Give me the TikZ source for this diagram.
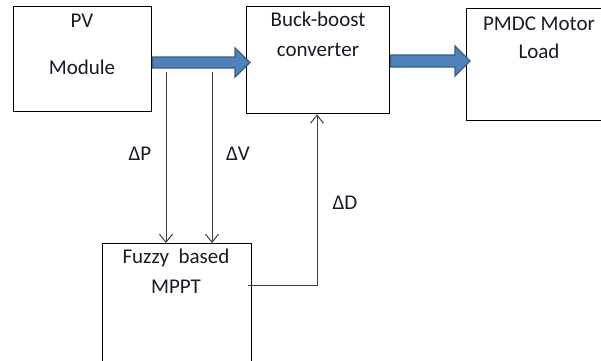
\documentclass[tikz,border=0pt]{standalone}
\usepackage{fontspec}
\setmainfont{Carlito}
\usetikzlibrary{arrows.meta,calc}
\definecolor{arrfill}{RGB}{79,129,189}
\definecolor{arrline}{RGB}{56,93,138}
\definecolor{txt}{RGB}{25,25,40}
\definecolor{thin}{RGB}{60,60,60}
\begin{document}
\begin{tikzpicture}[x=1pt,y=-1pt,
  blockbox/.style={draw=black,line width=1.4pt,anchor=north west,inner sep=0pt},
  lbl/.style={text=txt,font=\fontsize{21}{24}\selectfont,inner sep=0pt,anchor=base},
  sig/.style={draw=thin,line width=1pt,-{Straight Barb[length=8pt,width=13pt,line width=1pt]}},
  fat/.style={fill=arrfill,draw=arrline,line width=1.3pt,line join=miter}]
\useasboundingbox (0,0) rectangle (601,360);
\clip (0,0) rectangle (601,360);
\node[blockbox,minimum width=138,minimum height=105] (pv) at (13,6) {};
\node[blockbox,minimum width=143,minimum height=107] (buck) at (246,6) {};
\node[blockbox,minimum width=180,minimum height=112] (load) at (466,8) {};
\node[blockbox,minimum width=149,minimum height=180] (fuzzy) at (102,243) {};
% texts
\node[lbl] (t1) at (82,27) {PV};
\node[lbl] (t2) at (82,74) {Module};
\node[lbl] (t3) at (318,26) {Buck-boost};
\node[lbl] (t4) at (318,56) {converter};
\node[lbl] (t5) at (539,30) {PMDC Motor};
\node[lbl] (t6) at (539,58) {Load};
\node[lbl] (t7) at (176,263) {Fuzzy\ \ based};
\node[lbl] (t8) at (176,293) {MPPT};
\node[lbl] (dp) at (140,160) {ΔP};
\node[lbl] (dv) at (238,160) {ΔV};
\node[lbl] (dd) at (345,209) {ΔD};
% fat arrows
\draw[fat] (pv.east |- 0,57) -- (235,57) -- (235,48) -- (250,62.5) -- (235,77) -- (235,68) -- (pv.east |- 0,68) -- cycle;
\draw[fat] (buck.east |- 0,55) -- (455,55) -- (455,46) -- (470,61) -- (455,76) -- (455,67) -- (buck.east |- 0,67) -- cycle;
% signals
\coordinate (p1) at (166,72);
\coordinate (v1) at (212,72);
\draw[sig] (p1) -- (p1 |- fuzzy.north);
\draw[sig] (v1) -- (v1 |- fuzzy.north);
\coordinate (d0) at ($(fuzzy.north east)+(-4,42)$);
\draw[sig] (d0) -| (buck.south -| 317,0);
\end{tikzpicture}
\end{document}
